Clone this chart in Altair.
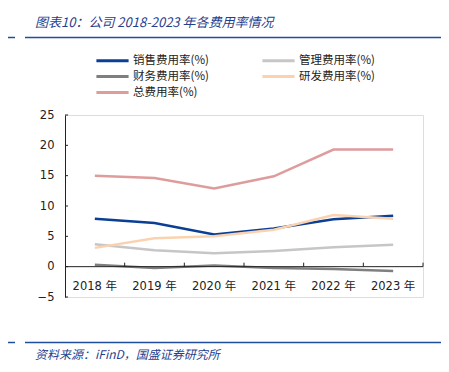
import altair as alt
import pandas as pd

years = ["2018 年", "2019 年", "2020 年", "2021 年", "2022 年", "2023 年"]
series_names = ["销售费用率(%)", "管理费用率(%)", "财务费用率(%)", "研发费用率(%)", "总费用率(%)"]
sales = [7.9, 7.2, 5.3, 6.3, 7.8, 8.4]
admin = [3.7, 2.7, 2.2, 2.6, 3.2, 3.6]
finance = [0.3, -0.2, 0.2, -0.2, -0.4, -0.7]
rnd = [3.1, 4.7, 5.0, 6.1, 8.5, 7.9]
total = [15.0, 14.6, 12.9, 14.9, 19.3, 19.3]
colors = ["#0B3F94", "#C6C6C6", "#7F7F7F", "#FBD2B0", "#DE9C9C"]
y_ticks = [-5, 0, 5, 10, 15, 20, 25]

title_text = "图表10：公司 2018-2023 年各费用率情况"
source_text = "资料来源：iFinD，国盛证券研究所"

values = [sales, admin, finance, rnd, total]
rows = []
for name, vals in zip(series_names, values):
    for y, v in zip(years, vals):
        rows.append({"year": y, "series": name, "value": v})
df = pd.DataFrame(rows)

# legend fills column by column: reorder so that it reads row by row
legend_order = [series_names[i] for i in (0, 2, 4, 1, 3)]
legend_colors = [colors[i] for i in (0, 2, 4, 1, 3)]

W, H = 358, 182
FONT = "DejaVu Sans, Noto Sans CJK SC"
CJK = "Noto Sans CJK SC"
BLUE = "#1F3F8F"

x_scale = alt.Scale(domain=years, paddingInner=0, paddingOuter=0)
x_axis = alt.Axis(title=None, domain=False, ticks=False, labelAngle=0,
                  labelFont=FONT, labelFontSize=11.5, labelColor="#222",
                  labelPadding=13, offset=-30, labelOverlap=False,
                  labelFlush=False, labelBound=False)
y_scale = alt.Scale(domain=[-5, 25], nice=False, zero=False)
y_axis = alt.Axis(title=None, values=y_ticks, grid=False, ticks=False,
                  domainColor="#222", domainWidth=1, labelOverlap=False,
                  labelFlush=False, labelBound=False,
                  labelFont=FONT, labelFontSize=11.5, labelColor="#222",
                  labelPadding=11)
x_enc = alt.X("year:N", sort=years, scale=x_scale, axis=x_axis)
y_enc = alt.Y("value:Q", scale=y_scale, axis=y_axis)
color_enc = alt.Color("series:N", sort=legend_order,
                      scale=alt.Scale(domain=legend_order, range=legend_colors),
                      legend=alt.Legend(title=None, orient="none", legendX=39, legendY=-63,
                                        columns=2, symbolType="M-2.3,0H2.3", symbolSize=196,
                                        symbolStrokeWidth=3, labelFont=CJK, labelFontSize=11.5,
                                        labelColor="#222", columnPadding=47, rowPadding=1,
                                        labelOffset=12, padding=0))

base = alt.Chart(df)
lines = []
for name in series_names:
    lines.append(base.transform_filter(alt.datum.series == name).mark_line(strokeWidth=2.5)
                 .encode(x=x_enc, y=y_enc, color=color_enc))

# x axis line at zero + ticks between categories
zero_df = pd.DataFrame({"value": [0]})
xline = alt.Chart(zero_df).mark_rule(color="#222", strokeWidth=1).encode(
    y=y_enc, x=alt.value(0), x2=alt.value(W))
tick_df = pd.DataFrame({"year": years})
xticks0 = alt.Chart(tick_df).transform_filter(alt.datum.year != years[0]).mark_rule(color="#222").encode(
    x=alt.X("year:N", sort=years, bandPosition=0, scale=x_scale, axis=x_axis),
    y=alt.value(H * 25 / 30 - 4), y2=alt.value(H * 25 / 30))
xticks1 = alt.Chart(tick_df).transform_filter(alt.datum.year == years[-1]).mark_rule(color="#222").encode(
    x=alt.X("year:N", sort=years, bandPosition=1, scale=x_scale, axis=x_axis),
    y=alt.value(H * 25 / 30 - 4), y2=alt.value(H * 25 / 30))
ytick_df = pd.DataFrame({"value": y_ticks})
yticks = alt.Chart(ytick_df).mark_rule(color="#222").encode(
    y=y_enc, x=alt.value(0), x2=alt.value(3))

one = pd.DataFrame({"a": [1]})
title = alt.Chart(one).mark_text(text=title_text, font=CJK, fontSize=13, fontStyle="italic",
                                 color=BLUE, align="left", baseline="middle").encode(
    x=alt.value(-30), y=alt.value(-92))
source = alt.Chart(one).mark_text(text=source_text, font=CJK, fontSize=12, fontStyle="italic",
                                  color=BLUE, align="left", baseline="middle").encode(
    x=alt.value(-30), y=alt.value(240))
rule_style = dict(color="#1F4E9E", strokeWidth=1.5)
t1 = alt.Chart(one).mark_rule(**rule_style).encode(x=alt.value(-57), x2=alt.value(-50), y=alt.value(-77.5))
t2 = alt.Chart(one).mark_rule(**rule_style).encode(x=alt.value(-40), x2=alt.value(380), y=alt.value(-77.5))
f1 = alt.Chart(one).mark_rule(**rule_style).encode(x=alt.value(-57), x2=alt.value(-50), y=alt.value(227.5))
f2 = alt.Chart(one).mark_rule(**rule_style).encode(x=alt.value(-40), x2=alt.value(380), y=alt.value(227.5))

chart = alt.layer(*lines, xline, xticks0, xticks1, yticks, title, source, t1, t2, f1, f2).properties(
    width=W, height=H,
    autosize=alt.AutoSizeParams(type="none"),
    padding={"left": 57, "top": 107, "right": 18, "bottom": 67},
).configure_view(stroke=None).configure_axis(
    labelOverlap=False, labelFlush=False
).configure(background="white")

chart.save("out.html", embed_options={"renderer": "svg", "actions": False})
